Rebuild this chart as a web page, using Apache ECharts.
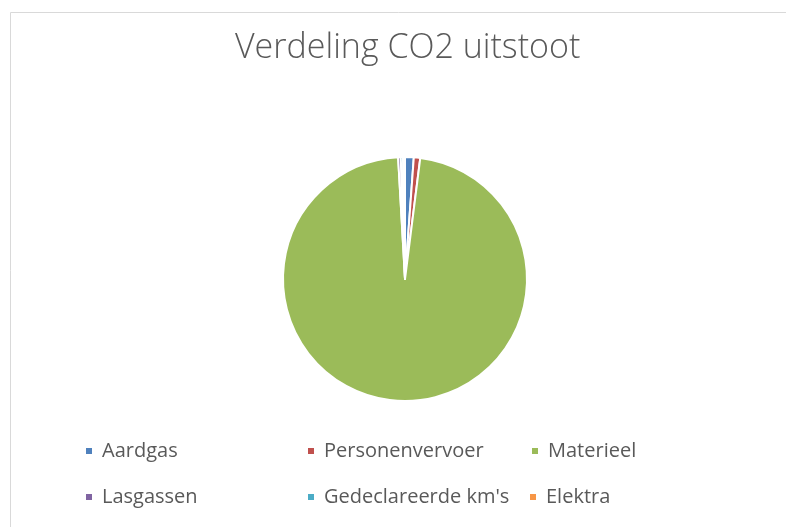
<!DOCTYPE html>
<html>
<head>
<meta charset="utf-8">
<script src="https://cdn.jsdelivr.net/npm/echarts@6/dist/echarts.min.js"></script>
<style>
  html, body { margin: 0; padding: 0; background: #fff; }
  #chart { width: 786px; height: 527px; }
</style>
</head>
<body>
<div id="chart"></div>
<script>
const categories = ['Aardgas', 'Personenvervoer', 'Materieel', 'Lasgassen', "Gedeclareerde km's", 'Elektra']
const shares = [1.15, 0.85, 97.1, 0.35, 0.3, 0.25]
const colors = ['#4f81bd', '#c0504d', '#9bbb59', '#8064a2', '#4bacc6', '#f79646']

// legend slots, Excel-like grid (3 columns, 2 rows)
const legendSlots = [
  [84, 441], [306, 441], [530, 441],
  [84, 487], [306, 487], [528, 487]
]

const chart = echarts.init(document.getElementById('chart'))

const legends = categories.map((name, i) => ({
  data: [name],
  left: legendSlots[i][0],
  top: legendSlots[i][1],
  padding: 0,
  orient: 'horizontal',
  icon: 'rect',
  itemWidth: 8,
  itemHeight: 8,
  selectedMode: false,
  textStyle: {
    fontFamily: 'Open Sans',
    fontSize: 20,
    lineHeight: 20,
    color: '#595959',
    padding: [0, 0, 0, 4]
  }
}))

chart.setOption({
  animation: false,
  color: colors,
  title: {
    text: 'Verdeling CO2 uitstoot',
    left: 230,
    top: 26,
    textStyle: {
      fontFamily: 'Open Sans',
      fontWeight: 300,
      fontSize: 34,
      color: '#595959'
    }
  },
  legend: legends,
  graphic: [{
    type: 'rect',
    left: 8,
    top: 10,
    shape: { width: 820, height: 560 },
    style: { fill: 'none', stroke: '#d9d9d9', lineWidth: 1 },
    silent: true
  }],
  series: [{
    type: 'pie',
    center: [405, 279],
    radius: [0, 122],
    startAngle: 90,
    clockwise: true,
    label: { show: false },
    labelLine: { show: false },
    itemStyle: { borderColor: '#fff', borderWidth: 2 },
    emphasis: { disabled: true },
    data: categories.map((name, i) => ({ name, value: shares[i] }))
  }]
})
</script>
</body>
</html>
